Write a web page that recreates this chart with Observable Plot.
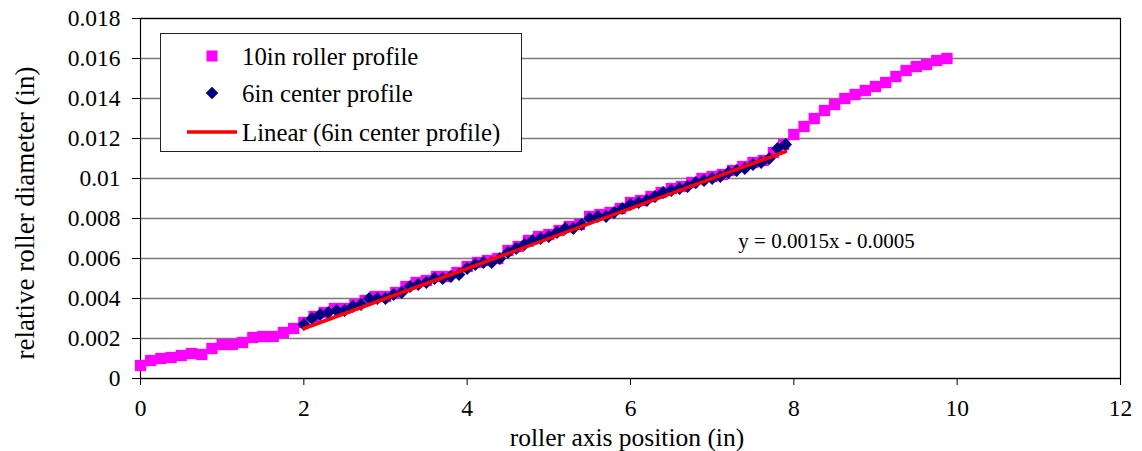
<!DOCTYPE html>
<html>
<head>
<meta charset="utf-8">
<script src="https://cdn.jsdelivr.net/npm/d3@7"></script>
<script src="https://cdn.jsdelivr.net/npm/@observablehq/plot@0.6"></script>
<style>
  html, body { margin: 0; padding: 0; background: #fff; }
  #wrap { position: relative; width: 1142px; height: 451px; }
  #wrap, #wrap svg, #wrap text { font-family: "Liberation Serif", "Times New Roman", "DejaVu Serif", serif; }
  #legend { position: absolute; left: 160px; top: 33px; width: 360px; height: 117px;
            border: 1px solid #222; background: #fff; }
  #legend svg { display: block; }
</style>
</head>
<body>
<div id="wrap">
  <div id="chart"></div>
  <div id="legend"></div>
</div>
<script>
const serif = '"Liberation Serif", "Times New Roman", "DejaVu Serif", serif';

// 10in roller profile: positions along the roller (in) and relative diameter (in)
const rollerX = d3.range(80).map(i => i * 0.125);
const rollerY = [
  0.00065, 0.0009, 0.0010, 0.00105, 0.00115, 0.00125, 0.0012, 0.0015,
  0.0017, 0.0017, 0.0018, 0.00205, 0.0021, 0.0021, 0.0023, 0.0025,
  0.0028, 0.0031, 0.0033, 0.0035, 0.0035, 0.0037, 0.0039, 0.0041,
  0.0041, 0.0043, 0.0046, 0.0048, 0.0049, 0.0051, 0.0051, 0.0053,
  0.0056, 0.0058, 0.0059, 0.0060, 0.0064, 0.0066, 0.0069, 0.0071,
  0.0072, 0.0074, 0.0076, 0.0077, 0.0081, 0.0082, 0.0083, 0.0085,
  0.0088, 0.0089, 0.0091, 0.0093, 0.0095, 0.0096, 0.0098, 0.0100,
  0.0101, 0.0102, 0.0104, 0.0106, 0.0108, 0.0109, 0.0113, 0.0117,
  0.0122, 0.0126, 0.0130, 0.0134, 0.0137, 0.0140, 0.0142, 0.0144,
  0.0146, 0.0148, 0.0151, 0.0154, 0.0156, 0.0157, 0.0159, 0.0160
];

// 6in center profile
const centerX = d3.range(60).map(i => 2.0 + i * 0.1);
const centerY = [
  0.0027, 0.0030, 0.0032, 0.0033, 0.0034, 0.0034, 0.0036, 0.0037, 0.0040, 0.0040,
  0.0040, 0.0042, 0.0043, 0.0046, 0.0047, 0.0048, 0.0050, 0.0050, 0.0051, 0.0052,
  0.0055, 0.0057, 0.0058, 0.0058, 0.0060, 0.0063, 0.0065, 0.0067, 0.0069, 0.0070,
  0.0071, 0.0073, 0.0075, 0.0075, 0.0077, 0.0080, 0.0081, 0.0081, 0.0083, 0.0085,
  0.0087, 0.0088, 0.0089, 0.0091, 0.0093, 0.0094, 0.0095, 0.0096, 0.0098, 0.0099,
  0.0100, 0.0101, 0.0103, 0.0104, 0.0105, 0.0107, 0.0108, 0.0110, 0.0115, 0.0117
];

// Linear trendline of the 6in center profile
const fitSlope = 0.0015;
const fitIntercept = -0.0005;
const fitLabel = "y = 0.0015x - 0.0005";

const xTicks = [0, 2, 4, 6, 8, 10, 12];
const yTicks = [0, 0.002, 0.004, 0.006, 0.008, 0.01, 0.012, 0.014, 0.016, 0.018];

const seriesNames = ["10in roller profile", "6in center profile", "Linear (6in center profile)"];
const colors = { roller: "#ff00ff", center: "#000080", fit: "#ff0000" };

const roller = rollerX.map((x, i) => ({ x, y: rollerY[i] }));
const center = centerX.map((x, i) => ({ x, y: centerY[i] }));
const fitX = d3.extent(centerX);
const fit = fitX.map(x => ({ x, y: fitSlope * x + fitIntercept }));

const sqR = Math.sqrt(128 / Math.PI);   // ~11.3px square
const dmR = Math.sqrt(105 / Math.PI);   // ~13px rotated square

const chart = Plot.plot({
  width: 1142,
  height: 451,
  marginLeft: 140,
  marginRight: 22,
  marginTop: 18,
  marginBottom: 73,
  style: { fontFamily: serif, fontSize: "23.5px", color: "#000", background: "#fff" },
  x: { domain: [0, 12], ticks: xTicks, label: null },
  y: { domain: [0, 0.018], ticks: yTicks, label: null },
  marks: [
    Plot.gridY(yTicks, { stroke: "#7a7a7a", strokeOpacity: 1, strokeWidth: 1.3 }),
    Plot.frame({ stroke: "#000", strokeWidth: 1.2 }),
    Plot.axisX(xTicks, { tickSize: 7, tickPadding: 14, tickFormat: d => String(d), label: null }),
    Plot.axisY(yTicks, { tickSize: 8, tickPadding: 12, tickFormat: d => String(+d.toFixed(3)), label: null }),
    Plot.dot(roller, { x: "x", y: "y", symbol: "square", r: sqR, fill: colors.roller, stroke: "none" }),
    Plot.dot(center, { x: "x", y: "y", symbol: "diamond2", r: dmR, fill: colors.center, stroke: "none" }),
    Plot.line(fit, { x: "x", y: "y", stroke: colors.fit, strokeWidth: 3.5 }),
    Plot.text([fitLabel], { x: 7.32, y: 0.00685, text: d => d, textAnchor: "start", fontSize: 21, fill: "#000" })
  ]
});

// Axis titles
const svg = d3.select(chart);
svg.append("text")
  .attr("x", 627).attr("y", 437).attr("dy", "0.35em")
  .attr("text-anchor", "middle")
  .style("font-family", serif).style("font-size", "25.5px")
  .text("roller axis position (in)");
svg.append("text")
  .attr("transform", "translate(25,213) rotate(-90)")
  .attr("dy", "0.35em")
  .attr("text-anchor", "middle")
  .style("font-family", serif).style("font-size", "27px")
  .text("relative roller diameter (in)");

document.getElementById("chart").appendChild(chart);

// Legend box
const lg = d3.select("#legend").append("svg").attr("width", 360).attr("height", 117)
  .style("font-family", serif).style("font-size", "24.8px");
const rows = [22, 59, 98];
lg.append("rect").attr("x", 45.5).attr("y", rows[0] - 5.5).attr("width", 11).attr("height", 11).attr("fill", colors.roller);
lg.append("path").attr("d", d3.symbol(d3.symbolDiamond2, 100)()).attr("transform", `translate(51,${rows[1]})`).attr("fill", colors.center);
lg.append("line").attr("x1", 26).attr("x2", 76).attr("y1", rows[2]).attr("y2", rows[2]).attr("stroke", colors.fit).attr("stroke-width", 3.5);
seriesNames.forEach((name, i) => {
  lg.append("text").attr("x", 81).attr("y", rows[i]).attr("dy", "0.35em").text(name);
});
</script>
</body>
</html>
